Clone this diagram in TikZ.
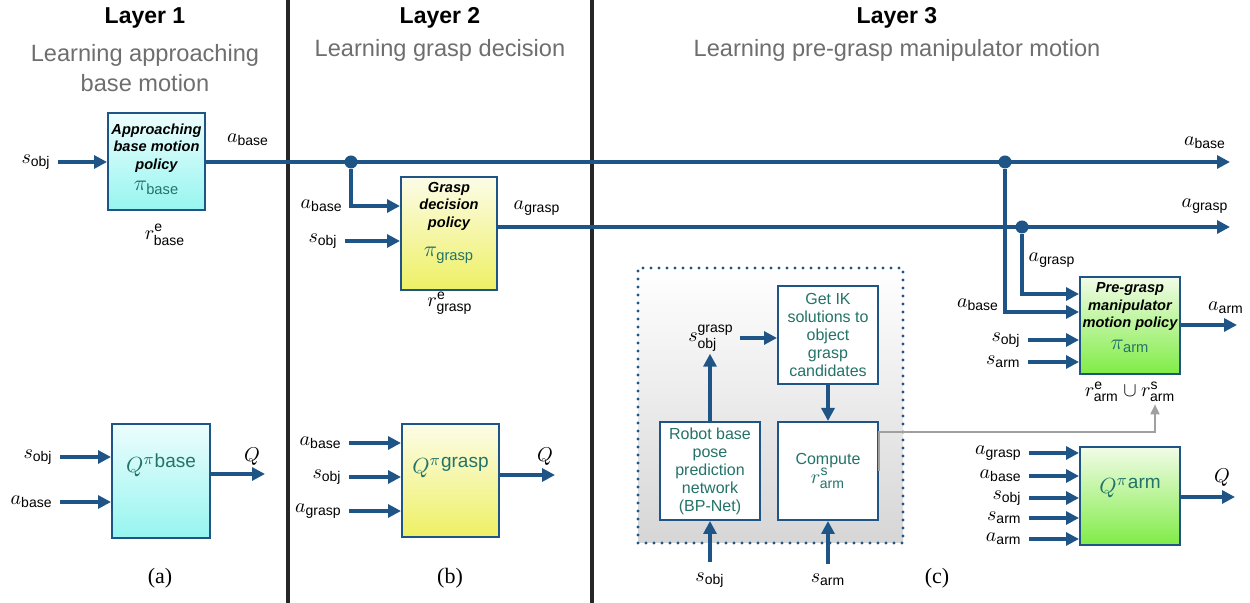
\documentclass[tikz,border=0pt]{standalone}
\usepackage{amsmath}
\usepackage{fontspec}
\setmainfont{Liberation Sans}
\newfontfamily\capfont{Liberation Serif}
\usetikzlibrary{arrows.meta}

\definecolor{lineblue}{RGB}{31,84,135}
\definecolor{tealtxt}{RGB}{35,115,105}
\definecolor{headgray}{RGB}{110,110,110}
\definecolor{linegray}{RGB}{160,160,160}
\definecolor{cyantop}{RGB}{236,253,253}
\definecolor{cyanbot}{RGB}{150,245,240}
\definecolor{yeltop}{RGB}{252,252,232}
\definecolor{yelbot}{RGB}{238,240,100}
\definecolor{grntop}{RGB}{242,252,232}
\definecolor{grnbot}{RGB}{128,236,70}
\definecolor{frmbot}{RGB}{214,214,214}

\newcommand{\pisub}[1]{{\normalfont\fontsize{10.5}{11}\selectfont\color{tealtxt}$\pi_{\text{#1}}$}}
\newcommand{\qpi}[1]{$Q^{\pi}$\raisebox{0.45ex}{\fontsize{9.5}{10}\selectfont #1}}

\begin{document}
\begin{tikzpicture}[x=0.5pt,y=-0.5pt,
  arr/.style={draw=lineblue,line width=1.6pt,-{Triangle[length=6.5pt,width=6.5pt]}},
  inarr/.style={arr,shorten <=2.5pt},
  grayarr/.style={draw=linegray,line width=0.9pt,-{Triangle[length=5pt,width=4.5pt]}},
  divider/.style={line width=2pt,black!85},
  head/.style={font=\bfseries\fontsize{11.5}{13}\selectfont},
  sub/.style={text=headgray,align=center,font=\fontsize{11.8}{15}\selectfont},
  lbl/.style={inner sep=1pt,font=\fontsize{10}{12}\selectfont},
  captxt/.style={font=\capfont\fontsize{11}{13}\selectfont},
  bbox/.style={draw=lineblue,line width=1pt,inner sep=0pt},
  ptxt/.style={align=center,inner sep=0pt,font=\bfseries\itshape\fontsize{7.3}{8.8}\selectfont},
  qtxt/.style={text=tealtxt,inner sep=0pt,font=\fontsize{11}{12}\selectfont},
  ibox/.style={bbox,fill=white,minimum width=50pt,minimum height=49pt,align=center,text=tealtxt,font=\fontsize{8}{9}\selectfont},
  cyanfill/.style={top color=cyantop,bottom color=cyanbot},
  yelfill/.style={top color=yeltop,bottom color=yelbot},
  grnfill/.style={top color=grntop,bottom color=grnbot},
  jdot/.style={circle,fill=lineblue,inner sep=0pt,minimum size=6.5pt}]
\useasboundingbox (0,0) rectangle (1250,603);

% headings and dividers
\node[head] (h1) at (145,18) {Layer 1};
\node[sub] (s1) at (145,68) {Learning approaching\\base motion};
\node[head] (h2) at (440,18) {Layer 2};
\node[sub] (s2) at (440,50) {Learning grasp decision};
\node[head] (h3) at (897,18) {Layer 3};
\node[sub] (s3) at (897,50) {Learning pre-grasp manipulator motion};
\draw[divider] (288,0) -- (288,603);
\draw[divider] (592,0) -- (592,603);

% layer 1
\node[bbox,cyanfill,minimum width=48.5pt,minimum height=48.5pt] (pibase) at (156.5,162) {};
\node[ptxt] (pibaset) at ([yshift=1.5pt]pibase.center) {Approaching\\base motion\\policy\\[2pt]\pisub{base}};
\node[lbl,anchor=east] (sobjA) at (53,162) {$s_{\text{obj}}$};
\draw[inarr] (sobjA.east) -- (pibase.west |- sobjA.east);
\node[lbl] (abaseA) at (248,140) {$a_{\text{base}}$};
\node[lbl] (rbase) at (165,235) {$r^{\text{e}}_{\text{base}}$};
\node[jdot] (j1) at (351,162) {};
\node[jdot] (j2) at (1005,162) {};
\coordinate (abaseEnd) at (1230,162);
\draw[arr] (pibase.east) -- (abaseEnd);
\node[lbl] (abaseR) at (1205,143) {$a_{\text{base}}$};

\node[bbox,cyanfill,minimum width=49pt,minimum height=57pt] (qbase) at (161,481) {};
\node[qtxt] (qbaset) at ([yshift=8pt]qbase.center) {\qpi{base}};
\node[lbl,anchor=east] (sobjD) at (55,457) {$s_{\text{obj}}$};
\node[lbl,anchor=east] (abaseD) at (55,502) {$a_{\text{base}}$};
\draw[inarr] (sobjD.east) -- (qbase.west |- sobjD.east);
\draw[inarr] (abaseD.east) -- (qbase.west |- abaseD.east);
\coordinate (qbaseEnd) at (265,474);
\draw[arr] (qbase.east |- qbaseEnd) -- (qbaseEnd);
\node[lbl] (qA) at (252,457) {$Q$};
\node[captxt] (capa) at (160,578) {(a)};

% layer 2
\node[bbox,yelfill,minimum width=48pt,minimum height=56.5pt] (pigrasp) at (449,233.5) {};
\node[ptxt] (pigraspt) at ([yshift=5.5pt]pigrasp.center) {Grasp\\decision\\policy\\[6pt]\pisub{grasp}};
\node[lbl,anchor=east] (abaseB) at (345,206) {$a_{\text{base}}$};
\draw[arr] (j1) |- (pigrasp.west |- abaseB.east);
\node[lbl,anchor=east] (sobjB) at (340,241) {$s_{\text{obj}}$};
\draw[inarr] (sobjB.east) -- (pigrasp.west |- sobjB.east);
\node[lbl] (agraspB) at (537,208) {$a_{\text{grasp}}$};
\node[lbl] (rgrasp) at (450,303) {$r^{\text{e}}_{\text{grasp}}$};
\node[jdot] (j4) at (1022,227) {};
\coordinate (agraspEnd) at (1230,227);
\draw[arr] (pigrasp.east |- j4) -- (agraspEnd);
\node[lbl] (agraspR) at (1205,206) {$a_{\text{grasp}}$};

\node[bbox,yelfill,minimum width=48.5pt,minimum height=56.5pt] (qgrasp) at (450.5,480.5) {};
\node[qtxt] (qgraspt) at ([yshift=6.5pt]qgrasp.center) {\qpi{grasp}};
\node[lbl,anchor=east] (abaseE) at (344,443) {$a_{\text{base}}$};
\node[lbl,anchor=east] (sobjE) at (344,477) {$s_{\text{obj}}$};
\node[lbl,anchor=east] (agraspE) at (344,511) {$a_{\text{grasp}}$};
\draw[inarr] (abaseE.east) -- (qgrasp.west |- abaseE.east);
\draw[inarr] (sobjE.east) -- (qgrasp.west |- sobjE.east);
\draw[inarr] (agraspE.east) -- (qgrasp.west |- agraspE.east);
\coordinate (qgraspEnd) at (555,475);
\draw[arr] (qgrasp.east |- qgraspEnd) -- (qgraspEnd);
\node[lbl] (qB) at (545,457) {$Q$};
\node[captxt] (capb) at (450,578) {(b)};

% layer 3: BP-Net frame
\node[top color=white,bottom color=frmbot,draw=lineblue,line width=1.6pt,line cap=round,
  dash pattern=on 0pt off 4pt,minimum width=132.5pt,minimum height=137.5pt] (ikfrm) at (770.5,405.5) {};
\node[ibox] (bpnet) at (710,471) {Robot base\\pose\\prediction\\network\\(BP-Net)};
\node[ibox] (getik) at (828,335) {Get IK\\solutions to\\object\\grasp\\candidates};
\node[ibox] (compute) at (828,471) {Compute\\[-1pt]{\fontsize{10}{11}\selectfont$r^{\text{s}}_{\text{arm}}$}};
\node[lbl] (sgrasp) at (711,338) {$s^{\text{grasp}}_{\text{obj}}$};
\draw[arr] (bpnet.north) -- (sgrasp.south -| bpnet.north);
\draw[arr,shorten <=2pt] (sgrasp.east) -- (getik.west |- sgrasp.east);
\draw[arr] (getik.south) -- (compute.north);
\node[lbl] (sobjF) at (710,580) {$s_{\text{obj}}$};
\node[lbl] (sarmF) at (828,580) {$s_{\text{arm}}$};
\draw[arr,shorten <=4pt] (sobjF.north) -- (bpnet.south);
\draw[arr,shorten <=4pt] (sarmF.north) -- (compute.south);
\node[captxt] (capc) at (937,578) {(c)};

% layer 3: manipulator policy
\node[bbox,grnfill,minimum width=50pt,minimum height=48.5pt] (piarm) at (1130,325.5) {};
\node[ptxt] (piarmt) at ([yshift=4pt]piarm.center) {Pre-grasp\\manipulator\\motion policy\\[2pt]\pisub{arm}};
\draw[arr] (j4) |- ([yshift=-9pt]piarm.north west);
\draw[arr] (j2) |- ([yshift=-18pt]piarm.north west);
\node[lbl] (agraspC) at (1052,260) {$a_{\text{grasp}}$};
\node[lbl] (abaseC) at (978,305) {$a_{\text{base}}$};
\node[lbl,anchor=east] (sobjC) at (1023,340) {$s_{\text{obj}}$};
\node[lbl,anchor=east] (sarmC) at (1023,362) {$s_{\text{arm}}$};
\draw[inarr] (sobjC.east) -- (piarm.west |- sobjC.east);
\draw[inarr] (sarmC.east) -- (piarm.west |- sarmC.east);
\coordinate (aarmEnd) at (1237,325);
\draw[arr] (piarm.east |- aarmEnd) -- (aarmEnd);
\node[lbl] (aarmR) at (1226,308) {$a_{\text{arm}}$};
\node[lbl] (rarm) at (1130,392) {$r^{\text{e}}_{\text{arm}}\cup r^{\text{s}}_{\text{arm}}$};
\coordinate (gturn) at (1155,432);
\draw[grayarr] (compute.east) |- (gturn) -- (rarm.south -| gturn);

\node[bbox,grnfill,minimum width=50pt,minimum height=49pt] (qarm) at (1130,496) {};
\node[qtxt] (qarmt) at ([yshift=4pt]qarm.center) {\qpi{arm}};
\node[lbl,anchor=east] (agraspG) at (1024,453) {$a_{\text{grasp}}$};
\node[lbl,anchor=east] (abaseG) at (1024,476) {$a_{\text{base}}$};
\node[lbl,anchor=east] (sobjG) at (1024,498) {$s_{\text{obj}}$};
\node[lbl,anchor=east] (sarmG) at (1024,518) {$s_{\text{arm}}$};
\node[lbl,anchor=east] (aarmG) at (1024,539) {$a_{\text{arm}}$};
\draw[inarr] (agraspG.east) -- (qarm.west |- agraspG.east);
\draw[inarr] (abaseG.east) -- (qarm.west |- abaseG.east);
\draw[inarr] (sobjG.east) -- (qarm.west |- sobjG.east);
\draw[inarr] (sarmG.east) -- (qarm.west |- sarmG.east);
\draw[inarr] (aarmG.east) -- (qarm.west |- aarmG.east);
\coordinate (qarmEnd) at (1235,497);
\draw[arr] (qarm.east |- qarmEnd) -- (qarmEnd);
\node[lbl] (qC) at (1222,478) {$Q$};
\end{tikzpicture}
\end{document}
